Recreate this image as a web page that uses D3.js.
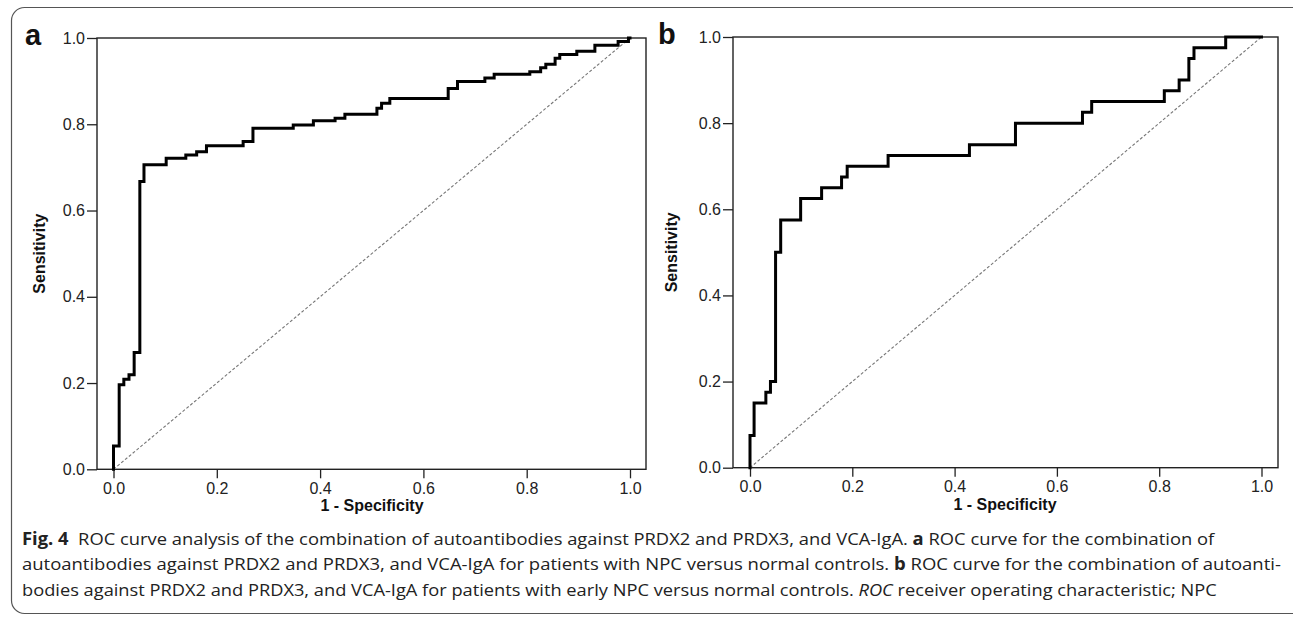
<!DOCTYPE html>
<html lang="en">
<head>
<meta charset="UTF-8">
<title>Fig. 4 ROC curves</title>
<script src="https://d3js.org/d3.v7.min.js"></script>
<style>
  body { margin: 0; background: #fff; }
  svg { display: block; }
  .tick text { font-family: "Liberation Sans", Arial, sans-serif; font-size: 16px; fill: #222; }
  .tick line { stroke: #222; stroke-width: 1.3; }
  .axis-title { font-family: "Liberation Sans", Arial, sans-serif; font-size: 16px; font-weight: bold; fill: #111; }
  .panel-label { font-family: "Liberation Sans", Arial, sans-serif; font-size: 29px; font-weight: bold; fill: #111; }
  .caption { font-family: "Open Sans", "Noto Sans", sans-serif; font-size: 17px; fill: #222; }
</style>
</head>
<body>
<div id="chart"></div>
<script>
// ROC corner points (1 - specificity, sensitivity)
const fprA = [0, 0, 0.011, 0.020, 0.030, 0.040, 0.051, 0.059, 0.102, 0.140, 0.161, 0.180, 0.251, 0.270,
  0.348, 0.387, 0.429, 0.448, 0.510, 0.519, 0.535, 0.648, 0.666, 0.719, 0.737, 0.806, 0.827, 0.837,
  0.855, 0.864, 0.897, 0.932, 0.977, 0.997, 1];
const tprA = [0, 0.054, 0.196, 0.209, 0.219, 0.271, 0.667, 0.706, 0.721, 0.729, 0.736, 0.750, 0.760, 0.791,
  0.798, 0.808, 0.814, 0.823, 0.837, 0.849, 0.860, 0.883, 0.899, 0.907, 0.916, 0.922, 0.931, 0.939,
  0.953, 0.962, 0.969, 0.983, 0.992, 1.0, 1];

const fprB = [0, 0, 0.008, 0.031, 0.040, 0.050, 0.060, 0.099, 0.140, 0.179, 0.190, 0.270, 0.429, 0.519,
  0.650, 0.668, 0.810, 0.839, 0.858, 0.868, 0.930, 1];
const tprB = [0, 0.075, 0.15, 0.175, 0.2, 0.5, 0.575, 0.625, 0.65, 0.675, 0.7, 0.725, 0.75, 0.8,
  0.825, 0.85, 0.875, 0.9, 0.95, 0.975, 1.0, 1];

const ticks = [0, 0.2, 0.4, 0.6, 0.8, 1.0];
const panelLabels = ["a", "b"];
const xTitle = "1 - Specificity";
const yTitle = "Sensitivity";

const captionLines = [
  [["Fig. 4", true], ["  ROC curve analysis of the combination of autoantibodies against PRDX2 and PRDX3, and VCA-IgA. ", false], ["a", true], [" ROC curve for the combination of", false]],
  [["autoantibodies against PRDX2 and PRDX3, and VCA-IgA for patients with NPC versus normal controls. ", false], ["b", true], [" ROC curve for the combination of autoanti-", false]],
  [["bodies against PRDX2 and PRDX3, and VCA-IgA for patients with early NPC versus normal controls. ", false], ["ROC", false, true], [" receiver operating characteristic; NPC", false]]
];

const W = 1293, H = 619;
const svg = d3.select("#chart").append("svg").attr("width", W).attr("height", H);

// outer rounded border
svg.append("rect")
  .attr("x", 11.5).attr("y", 7.5).attr("width", 1300).attr("height", 606)
  .attr("rx", 13).attr("fill", "none").attr("stroke", "#555").attr("stroke-width", 1.2);

const panels = [
  { fpr: fprA, tpr: tprA, x0: 113.5, x1: 630, y0: 469.3, y1: 38, fl: 97, fr: 646, lx: 25, ly: 45, yt: 40, xt: 372 },
  { fpr: fprB, tpr: tprB, x0: 750, x1: 1261.5, y0: 467.7, y1: 37, fl: 733, fr: 1278, lx: 658, ly: 44, yt: 672, xt: 1005 }
];

panels.forEach((p, i) => {
  const x = d3.scaleLinear().domain([0, 1]).range([p.x0, p.x1]);
  const y = d3.scaleLinear().domain([0, 1]).range([p.y0, p.y1]);
  const g = svg.append("g");

  // frame
  g.append("rect")
    .attr("x", p.fl).attr("y", p.y1).attr("width", p.fr - p.fl).attr("height", p.y0 - p.y1)
    .attr("fill", "none").attr("stroke", "#222").attr("stroke-width", 1.4);

  // y axis
  const ya = g.append("g").attr("transform", `translate(${p.fl},0)`)
    .call(d3.axisLeft(y).tickValues(ticks).tickFormat(d3.format(".1f")).tickSize(10).tickPadding(2));
  ya.select(".domain").remove();

  // x axis
  const xa = g.append("g").attr("transform", `translate(0,${p.y0})`)
    .call(d3.axisBottom(x).tickValues(ticks).tickFormat(d3.format(".1f")).tickSize(9).tickPadding(4));
  xa.select(".domain").remove();

  // diagonal reference
  g.append("line")
    .attr("x1", x(0)).attr("y1", y(0)).attr("x2", x(1)).attr("y2", y(1))
    .attr("stroke", "#777").attr("stroke-width", 1.1).attr("stroke-dasharray", "3,2");

  // ROC step curve
  const pts = p.fpr.map((f, k) => [f, p.tpr[k]]);
  const line = d3.line().x(d => x(d[0])).y(d => y(d[1])).curve(d3.curveStepAfter);
  g.append("path").datum(pts)
    .attr("d", line).attr("fill", "none").attr("stroke", "#000").attr("stroke-width", 3)
    .attr("stroke-linejoin", "miter").attr("stroke-linecap", "square");

  // titles
  g.append("text").attr("class", "axis-title").attr("x", p.xt).attr("y", p.y0 + 42)
    .attr("text-anchor", "middle").text(xTitle);
  g.append("text").attr("class", "axis-title")
    .attr("transform", `translate(${p.yt + 5},${(p.y0 + p.y1) / 2}) rotate(-90)`)
    .attr("text-anchor", "middle").text(yTitle);
  g.append("text").attr("class", "panel-label").attr("x", p.lx).attr("y", p.ly).text(panelLabels[i]);
});

// caption
const lineTargets = [1215, 1281, 1218];
captionLines.forEach((parts, i) => {
  const t = svg.append("text").attr("class", "caption").attr("x", 22).attr("y", 545 + i * 25.5)
    .attr("xml:space", "preserve");
  parts.forEach(([s, bold, ital]) => {
    t.append("tspan").attr("font-weight", bold ? "bold" : null)
      .attr("font-style", ital ? "italic" : null).text(s);
  });
  const w = t.node().getComputedTextLength();
  const sx = (lineTargets[i] - 22) / w;
  t.attr("transform", `translate(22,0) scale(${sx},1) translate(-22,0)`);
});
</script>
</body>
</html>
